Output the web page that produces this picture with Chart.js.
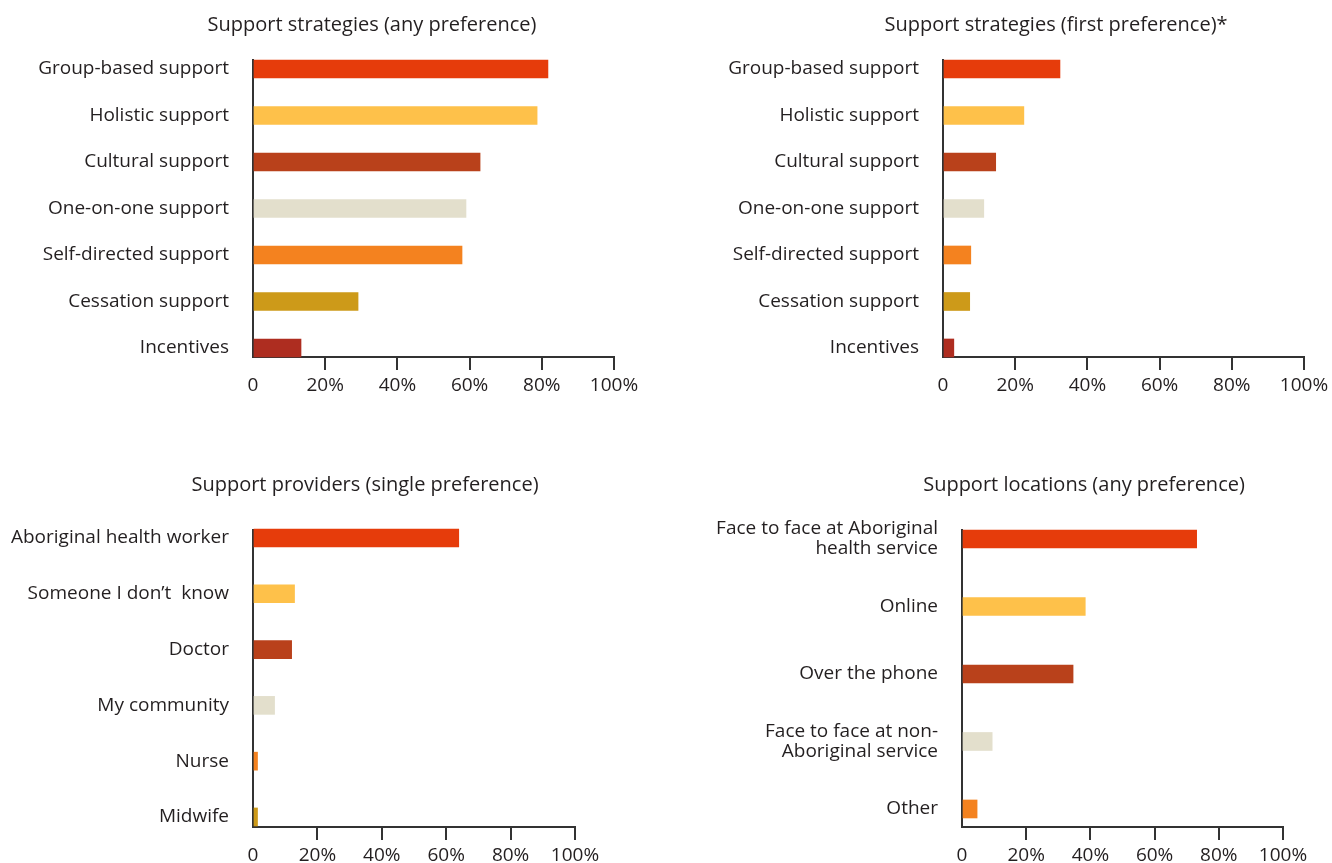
<!DOCTYPE html>
<html>
<head>
<meta charset="utf-8">
<script src="https://cdn.jsdelivr.net/npm/chart.js@4"></script>
<style>
  html, body { margin: 0; padding: 0; background: #fff; overflow: hidden; width: 1332px; height: 863px; }
  canvas { position: absolute; }
</style>
</head>
<body>
<canvas id="anyPreferenceChart" width="744" height="420" style="left:0;top:0"></canvas>
<canvas id="firstPreferenceChart" width="712" height="420" style="left:700px;top:0"></canvas>
<canvas id="providersChart" width="730" height="430" style="left:0;top:460px"></canvas>
<canvas id="locationsChart" width="768" height="430" style="left:700px;top:460px"></canvas>
<script>
// Values (% of respondents)
const strategyLabels = [
  "Group-based support",
  "Holistic support",
  "Cultural support",
  "One-on-one support",
  "Self-directed support",
  "Cessation support",
  "Incentives",
];
const anyPreferenceValues = [81.7, 78.7, 62.9, 59, 57.9, 29.1, 13.3];
const firstPreferenceValues = [32.4, 22.4, 14.6, 11.3, 7.7, 7.4, 3];

const providerLabels = [
  "Aboriginal health worker",
  "Someone I don\u2019t  know",
  "Doctor",
  "My community",
  "Nurse",
  "Midwife",
];
const providerValues = [63.9, 12.9, 12, 6.7, 1.4, 1.4];

const locationLabels = [
  ["Face to face at Aboriginal", "health service"],
  "Online",
  "Over the phone",
  ["Face to face at non-", "Aboriginal service"],
  "Other",
];
const locationValues = [73.1, 38.4, 34.6, 9.4, 4.7];

const percentTicks = ["0", "20%", "40%", "60%", "80%", "100%"];

const barColours = ["#e63c0b", "#fec14a", "#b9411b", "#e3dfcc", "#f4821f", "#cd9a19", "#ae2d20"];

const FONT = "'Open Sans', sans-serif";
const TEXT = "#231f20";
const AXIS = "#333333";

// Panel title centred on a given point (the built-in title centres on the chart area)
const panelTitle = {
  id: "panelTitle",
  afterDraw(chart, args, opts) {
    const ctx = chart.ctx;
    ctx.save();
    ctx.font = "20px " + FONT;
    ctx.fillStyle = TEXT;
    ctx.textAlign = "center";
    ctx.textBaseline = "middle";
    ctx.fillText(opts.text, opts.x, opts.y);
    ctx.restore();
  },
};

function makeChart(id, title, labels, values, layout) {
  const ctx = document.getElementById(id);
  return new Chart(ctx, {
    type: "bar",
    data: {
      datasets: [
        {
          data: labels.map((label, i) => ({ x: values[i], y: i })),
          backgroundColor: barColours.slice(0, labels.length),
          barThickness: 18,
          clip: false,
        },
      ],
    },
    plugins: [panelTitle],
    options: {
      indexAxis: "y",
      responsive: false,
      animation: false,
      layout: { padding: { left: 0, right: layout.padRight, top: layout.padTop, bottom: 0 } },
      plugins: {
        legend: { display: false },
        tooltip: { enabled: false },
        panelTitle: { text: title, x: layout.titleX, y: layout.titleY },
      },
      scales: {
        x: {
          type: "linear",
          min: 0,
          max: 100,
          ticks: {
            stepSize: 20,
            padding: 4,
            color: TEXT,
            font: { family: FONT, size: 19 },
            callback: (value, index) => percentTicks[index],
          },
          grid: {
            drawOnChartArea: false,
            drawTicks: true,
            tickLength: 13,
            lineWidth: 2,
            color: (c) => (c.tick && c.tick.value === 0 ? "rgba(0,0,0,0)" : AXIS),
          },
          border: { display: true, color: AXIS, width: 2 },
          afterFit: (scale) => {
            scale.height = layout.xHeight;
          },
        },
        y: {
          type: "linear",
          reverse: true,
          offset: false,
          min: layout.yMin,
          max: layout.yMax,
          afterBuildTicks: (scale) => {
            scale.ticks = labels.map((label, i) => ({ value: i }));
          },
          ticks: {
            padding: 24,
            color: TEXT,
            font: { family: FONT, size: 19, lineHeight: 1.05 },
            callback: (value, index) => labels[index],
          },
          grid: { display: false, drawTicks: false, offset: false },
          border: { display: true, color: AXIS, width: 2 },
          afterFit: (scale) => {
            scale.width = layout.yWidth;
          },
        },
      },
    },
  });
}

makeChart("anyPreferenceChart", "Support strategies (any preference)", strategyLabels, anyPreferenceValues, {
  padRight: 130, padTop: 60, xHeight: 63, yWidth: 253, yMin: -0.194, yMax: 6.194, titleX: 372, titleY: 25,
});
makeChart("firstPreferenceChart", "Support strategies (first preference)*", strategyLabels, firstPreferenceValues, {
  padRight: 108, padTop: 60, xHeight: 63, yWidth: 243, yMin: -0.194, yMax: 6.194, titleX: 356, titleY: 25,
});
makeChart("providersChart", "Support providers (single preference)", providerLabels, providerValues, {
  padRight: 155, padTop: 70, xHeight: 63, yWidth: 253, yMin: -0.143, yMax: 5.18, titleX: 365, titleY: 25,
});
makeChart("locationsChart", "Support locations (any preference)", locationLabels, locationValues, {
  padRight: 185, padTop: 70, xHeight: 63, yWidth: 262, yMin: -0.133, yMax: 4.267, titleX: 384, titleY: 25,
});
</script>
</body>
</html>
